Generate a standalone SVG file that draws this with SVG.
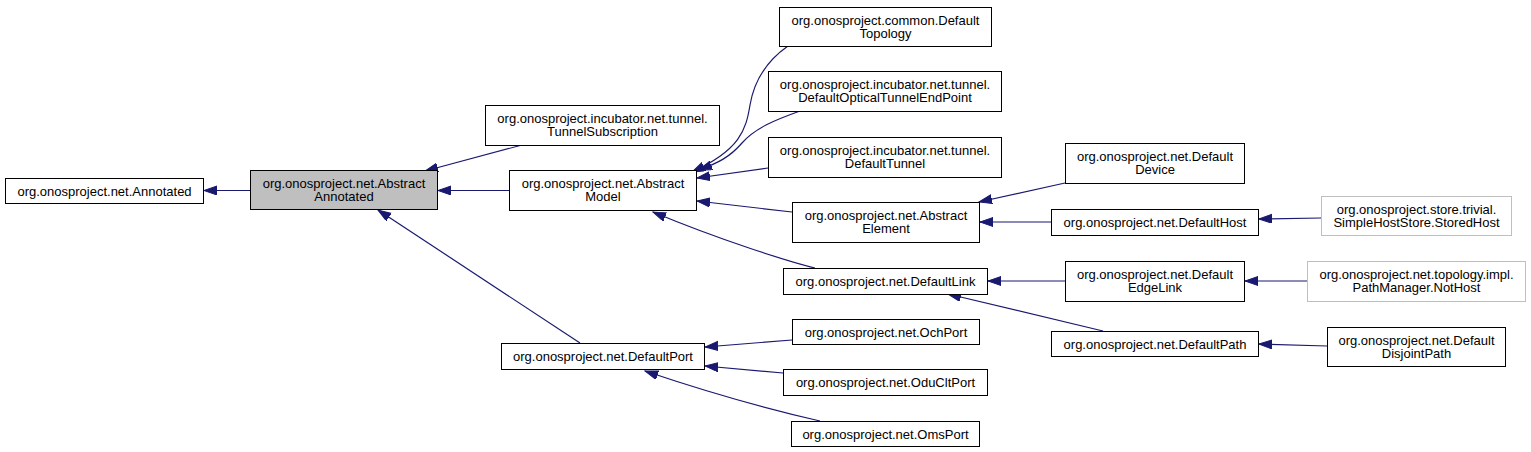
<svg xmlns="http://www.w3.org/2000/svg" width="1531" height="452" viewBox="0 0 1531 452">
<style>
.n rect{fill:#fff;stroke:#000;stroke-width:1}
.n.cur rect{fill:#bfbfbf}
.n.ext rect{stroke:#bfbfbf}
.n text{font-family:"Liberation Sans",Arial,Helvetica,sans-serif;font-size:13px;fill:#000;text-anchor:middle}
.e path{fill:none;stroke:#191970;stroke-width:1.2;marker-end:url(#ah)}
</style>
<defs>
<marker id="ah" markerUnits="userSpaceOnUse" markerWidth="14" markerHeight="10" refX="13" refY="4.5" orient="auto">
<path d="M0,0 L13,4.5 L0,9 z" fill="#191970" stroke="#191970" stroke-width="1"/>
</marker>
</defs>
<rect width="1531" height="452" fill="#fff"/>
<g id="edges" class="e">
<path d="M250,190.5 L204,190.5"/>
<path d="M522,145 L425,171"/>
<path d="M509,190.5 L438,190.5"/>
<path d="M580,343 L378,210"/>
<path d="M788,46 C765,62 754,82 750,105 C746,130 740,150 692,172"/>
<path d="M800,111 C775,120 755,128 742,143 C730,157 718,163 699,170"/>
<path d="M768,168 L697,178"/>
<path d="M792,212 L697,201"/>
<path d="M815,268 C790,262 720,240 653,212"/>
<path d="M1065,183 L979,202"/>
<path d="M1051,222 L980,222"/>
<path d="M1321,218 L1259,219"/>
<path d="M1065,281 L988,281"/>
<path d="M1307,281 L1245,281"/>
<path d="M1103,331 L948,294"/>
<path d="M1327,346 L1259,344"/>
<path d="M792,340 L705,347"/>
<path d="M783,373 L705,366"/>
<path d="M820,421 C785,413 725,398 645,371"/>
</g>
<g id="n_annotated" class="n"><rect x="5.5" y="178.5" width="198" height="25"/><text x="104.5" y="195.5">org.onosproject.net.Annotated</text></g>
<g id="n_abstractannotated" class="n cur"><rect x="250.5" y="170.5" width="187" height="39"/><text x="344" y="188">org.onosproject.net.Abstract</text><text x="344" y="201">Annotated</text></g>
<g id="n_tunnelsubscription" class="n"><rect x="485.5" y="105.5" width="234" height="40"/><text x="602.5" y="123">org.onosproject.incubator.net.tunnel.</text><text x="602.5" y="136">TunnelSubscription</text></g>
<g id="n_abstractmodel" class="n"><rect x="509.5" y="170.5" width="187" height="40"/><text x="603" y="188">org.onosproject.net.Abstract</text><text x="603" y="201">Model</text></g>
<g id="n_defaultport" class="n"><rect x="501.5" y="343.5" width="203" height="26"/><text x="603" y="361">org.onosproject.net.DefaultPort</text></g>
<g id="n_defaulttopology" class="n"><rect x="779.5" y="7.5" width="212" height="39"/><text x="885.5" y="24.5">org.onosproject.common.Default</text><text x="885.5" y="37.5">Topology</text></g>
<g id="n_opticaltunnelendpoint" class="n"><rect x="768.5" y="71.5" width="233" height="40"/><text x="885" y="89">org.onosproject.incubator.net.tunnel.</text><text x="885" y="102">DefaultOpticalTunnelEndPoint</text></g>
<g id="n_defaulttunnel" class="n"><rect x="768.5" y="137.5" width="233" height="40"/><text x="885" y="155">org.onosproject.incubator.net.tunnel.</text><text x="885" y="168">DefaultTunnel</text></g>
<g id="n_abstractelement" class="n"><rect x="792.5" y="202.5" width="187" height="40"/><text x="886" y="220">org.onosproject.net.Abstract</text><text x="886" y="233">Element</text></g>
<g id="n_defaultlink" class="n"><rect x="783.5" y="268.5" width="204" height="26"/><text x="885.5" y="286">org.onosproject.net.DefaultLink</text></g>
<g id="n_ochport" class="n"><rect x="792.5" y="319.5" width="187" height="25"/><text x="886" y="336.5">org.onosproject.net.OchPort</text></g>
<g id="n_oducltport" class="n"><rect x="783.5" y="369.5" width="204" height="26"/><text x="885.5" y="387">org.onosproject.net.OduCltPort</text></g>
<g id="n_omsport" class="n"><rect x="791.5" y="421.5" width="188" height="25"/><text x="885.5" y="438.5">org.onosproject.net.OmsPort</text></g>
<g id="n_defaultdevice" class="n"><rect x="1065.5" y="143.5" width="179" height="40"/><text x="1155" y="161">org.onosproject.net.Default</text><text x="1155" y="174">Device</text></g>
<g id="n_defaulthost" class="n"><rect x="1051.5" y="209.5" width="207" height="26"/><text x="1155" y="227">org.onosproject.net.DefaultHost</text></g>
<g id="n_defaultedgelink" class="n"><rect x="1065.5" y="261.5" width="179" height="40"/><text x="1155" y="279">org.onosproject.net.Default</text><text x="1155" y="292">EdgeLink</text></g>
<g id="n_defaultpath" class="n"><rect x="1051.5" y="331.5" width="207" height="25"/><text x="1155" y="348.5">org.onosproject.net.DefaultPath</text></g>
<g id="n_storedhost" class="n ext"><rect x="1321.5" y="196.5" width="190" height="39"/><text x="1416.5" y="214">org.onosproject.store.trivial.</text><text x="1416.5" y="227">SimpleHostStore.StoredHost</text></g>
<g id="n_nothost" class="n ext"><rect x="1307.5" y="261.5" width="218" height="40"/><text x="1416.5" y="279">org.onosproject.net.topology.impl.</text><text x="1416.5" y="292">PathManager.NotHost</text></g>
<g id="n_disjointpath" class="n"><rect x="1327.5" y="327.5" width="178" height="39"/><text x="1416.5" y="345">org.onosproject.net.Default</text><text x="1416.5" y="358">DisjointPath</text></g>
</svg>
